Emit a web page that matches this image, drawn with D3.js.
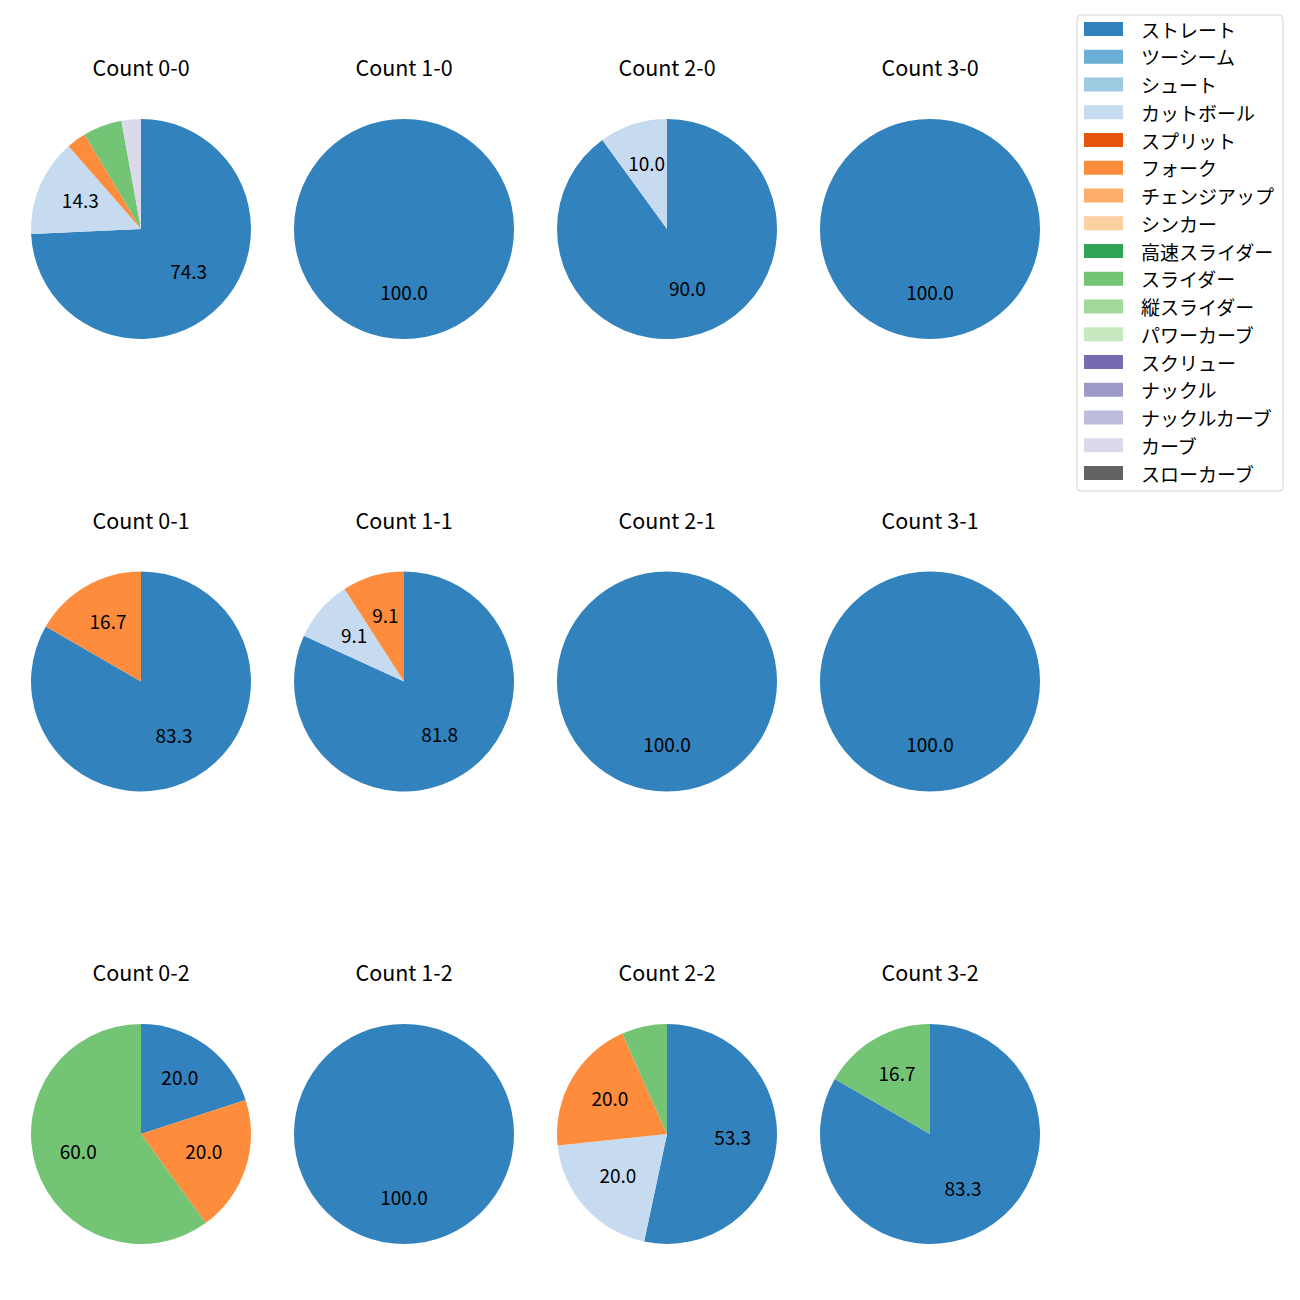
<!DOCTYPE html>
<html>
<head>
<meta charset="utf-8">
<script src="https://cdn.jsdelivr.net/npm/d3@7"></script>
<style>
  body { margin: 0; background: #fff; }
  text { font-family: "Noto Sans CJK JP", "Noto Sans", sans-serif; }
</style>
</head>
<body>
<div id="chart"></div>
<script>
// pitch types (legend order) and their tab20c colours
let pitchTypes = ['ストレート','ツーシーム','シュート','カットボール','スプリット','フォーク','チェンジアップ','シンカー','高速スライダー','スライダー','縦スライダー','パワーカーブ','スクリュー','ナックル','ナックルカーブ','カーブ','スローカーブ'];
let pitchColors = ['#3182bd','#6baed6','#9ecae1','#c6dbef','#e6550d','#fd8d3c','#fdae6b','#fdd0a2','#31a354','#74c476','#a1d99b','#c7e9c0','#756bb1','#9e9ac8','#bcbddc','#dadaeb','#636363'];

// counts: balls-strikes, row by row
let countTitles = ['Count 0-0','Count 1-0','Count 2-0','Count 3-0',
                   'Count 0-1','Count 1-1','Count 2-1','Count 3-1',
                   'Count 0-2','Count 1-2','Count 2-2','Count 3-2'];

// number of pitches per type, same order as pitchTypes (read from the shares)
let pitches00 = [26,0,0,5,0,1,0,0,0,2,0,0,0,0,0,1,0];
let pitches10 = [4,0,0,0,0,0,0,0,0,0,0,0,0,0,0,0,0];
let pitches20 = [9,0,0,1,0,0,0,0,0,0,0,0,0,0,0,0,0];
let pitches30 = [2,0,0,0,0,0,0,0,0,0,0,0,0,0,0,0,0];
let pitches01 = [5,0,0,0,0,1,0,0,0,0,0,0,0,0,0,0,0];
let pitches11 = [9,0,0,1,0,1,0,0,0,0,0,0,0,0,0,0,0];
let pitches21 = [3,0,0,0,0,0,0,0,0,0,0,0,0,0,0,0,0];
let pitches31 = [1,0,0,0,0,0,0,0,0,0,0,0,0,0,0,0,0];
let pitches02 = [1,0,0,0,0,1,0,0,0,3,0,0,0,0,0,0,0];
let pitches12 = [3,0,0,0,0,0,0,0,0,0,0,0,0,0,0,0,0];
let pitches22 = [8,0,0,3,0,3,0,0,0,1,0,0,0,0,0,0,0];
let pitches32 = [5,0,0,0,0,0,0,0,0,1,0,0,0,0,0,0,0];

let allPitches = [pitches00,pitches10,pitches20,pitches30,pitches01,pitches11,pitches21,pitches31,pitches02,pitches12,pitches22,pitches32];

let W = 1300, H = 1300;
let svg = d3.select('#chart').append('svg')
    .attr('width', W).attr('height', H);

let color = d3.scaleOrdinal().domain(pitchTypes).range(pitchColors);
let colX = d3.scalePoint().domain([0,1,2,3]).range([141, 930]);
let rowY = d3.scalePoint().domain([0,1,2]).range([229, 1134]);
let R = 110;

let pie = d3.pie().sort(null).value(function(d){ return d.v; });
let arc = d3.arc().innerRadius(0).outerRadius(R);
let labelArc = d3.arc().innerRadius(R*0.6).outerRadius(R*0.6);

allPitches.forEach(function(vals, i){
  let data = pitchTypes.map(function(p, j){ return {name: p, v: vals[j]}; })
      .filter(function(d){ return d.v > 0; });
  let total = d3.sum(data, function(d){ return d.v; });
  let g = svg.append('g')
      .attr('transform', 'translate(' + colX(i % 4) + ',' + rowY(Math.floor(i / 4)) + ')');

  g.append('text')
      .attr('x', 0).attr('y', -153)
      .attr('text-anchor', 'middle')
      .attr('font-size', 21.5)
      .text(countTitles[i]);

  let arcs = pie(data);
  g.selectAll('path').data(arcs).enter().append('path')
      .attr('d', arc)
      .attr('fill', function(d){ return color(d.data.name); });

  g.selectAll('text.lbl').data(arcs.filter(function(d){ return d.data.v / total * 100 > 8; }))
      .enter().append('text')
      .attr('class', 'lbl')
      .attr('transform', function(d){
        let c = labelArc.centroid(d);
        return 'translate(' + c[0] + ',' + (c[1] + 4.5) + ')';
      })
      .attr('text-anchor', 'middle')
      .attr('font-size', 19)
      .text(function(d){ return (d.data.v / total * 100).toFixed(1); });
});

// legend
let legend = svg.append('g').attr('transform', 'translate(1077,15)');
legend.append('rect')
    .attr('width', 206).attr('height', 476)
    .attr('rx', 4).attr('ry', 4)
    .attr('fill', '#fff').attr('stroke', '#d5d5d5');
let legY = d3.scalePoint().domain(pitchTypes).range([14, 458]);
let items = legend.selectAll('g.item').data(pitchTypes).enter().append('g')
    .attr('class', 'item')
    .attr('transform', function(d){ return 'translate(0,' + legY(d) + ')'; });
items.append('rect')
    .attr('x', 7).attr('y', -7)
    .attr('width', 39).attr('height', 14)
    .attr('fill', function(d){ return color(d); });
items.append('text')
    .attr('x', 64).attr('y', 0)
    .attr('dominant-baseline', 'central')
    .attr('font-size', 19)
    .text(function(d){ return d; });
</script>
</body>
</html>
